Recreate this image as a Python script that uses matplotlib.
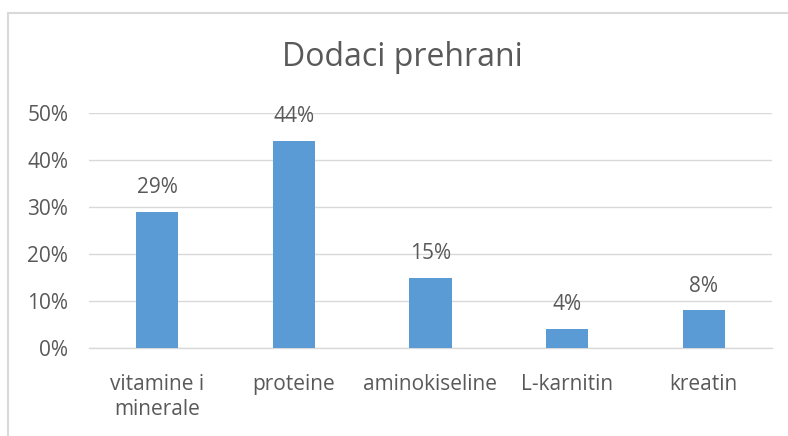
import numpy as np
import matplotlib.pyplot as plt
from matplotlib.lines import Line2D

# Data
categories = ["vitamine i\nminerale", "proteine", "aminokiseline", "L-karnitin", "kreatin"]
values = [29, 44, 15, 4, 8]
yticks = [0, 10, 20, 30, 40, 50]

W, H = 788, 436
plt.rcParams['font.family'] = ['Open Sans', 'DejaVu Sans']
text_col = '#595959'
grid_col = '#D9D9D9'
bar_col = '#5B9BD5'

fig = plt.figure(figsize=(W / 100, H / 100), dpi=100)
ax = fig.add_axes([89 / W, 1 - 348 / H, (772 - 89) / W, (348 - 113) / H])

x = np.arange(len(categories))
ax.bar(x, values, width=0.31, color=bar_col, zorder=3)
for xi, v in zip(x, values):
    ax.annotate(f"{v}%", (xi, v), xytext=(0, 10), textcoords='offset points',
                ha='center', va='bottom', fontsize=15, color=text_col)

ax.set_xlim(-0.5, len(categories) - 0.5)
ax.set_ylim(0, 50)
ax.set_yticks(yticks)
ax.set_yticklabels([f"{t}%" for t in yticks], fontsize=15, color=text_col)
ax.set_xticks(x)
ax.set_xticklabels(categories, fontsize=15, color=text_col, linespacing=1.2)
ax.tick_params(length=0)
ax.tick_params(axis='y', pad=15)
ax.tick_params(axis='x', pad=19)
ax.grid(axis='y', color=grid_col, linewidth=1, zorder=0)
for s in ['top', 'right', 'left']:
    ax.spines[s].set_visible(False)
ax.spines['bottom'].set_color(grid_col)
ax.spines['bottom'].set_linewidth(1)

fig.text(402 / W, 1 - 58 / H, "Dodaci prehrani", ha='center', va='center',
         fontsize=23, color=text_col)

# outer chart frame (cropped at right and bottom)
fig.add_artist(Line2D([8 / W, 8 / W], [0, 1 - 13 / H], color=grid_col, linewidth=1.5,
                      transform=fig.transFigure))
fig.add_artist(Line2D([8 / W, 1], [1 - 13 / H, 1 - 13 / H], color=grid_col, linewidth=1.5,
                      transform=fig.transFigure))

fig.savefig("out.png", dpi=100)
